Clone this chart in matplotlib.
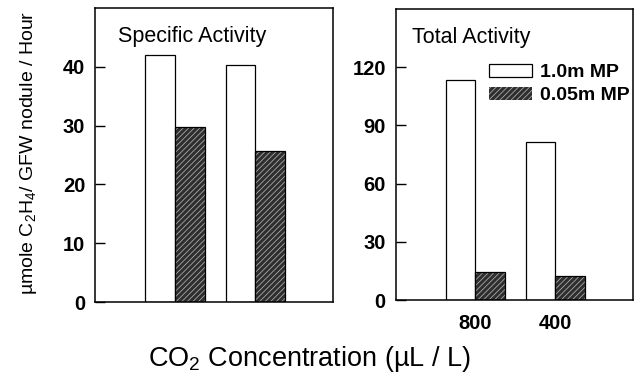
import numpy as np
import matplotlib
matplotlib.use('Agg')
import matplotlib.pyplot as plt
from matplotlib.patches import Patch

plt.rcParams['font.family'] = ['Liberation Sans', 'DejaVu Sans']
plt.rcParams['mathtext.fontset'] = 'custom'
plt.rcParams['mathtext.rm'] = 'Liberation Sans'
plt.rcParams['mathtext.it'] = 'Liberation Sans:italic'
plt.rcParams['hatch.linewidth'] = 0.6

# data
co2_levels = ['800', '400']
series_names = ['1.0m MP', '0.05m MP']
specific_high = [42.0, 40.3]
specific_low = [29.7, 25.7]
total_high = [113.3, 81.7]
total_low = [14.5, 12.3]
specific_ticks = [0, 10, 20, 30, 40]
total_ticks = [0, 30, 60, 90, 120]

fill_dark = '#2e2e2e'
hatch_col = '#a8a8a8'
w = 0.37

fig = plt.figure(figsize=(6.4, 3.78), dpi=100)
ax1 = fig.add_axes([0.1484, 0.201, 0.372, 0.778])
ax2 = fig.add_axes([0.618, 0.206, 0.371, 0.770])

x = np.arange(len(co2_levels))

def draw(ax, high, low, ymax, ticks, title, tx):
    ax.bar(x - w / 2, high, w, color='white', edgecolor='black', linewidth=0.9)
    ax.bar(x + w / 2, low, w, color=fill_dark, edgecolor=hatch_col,
           hatch='//////', linewidth=0)
    ax.bar(x + w / 2, low, w, fill=False, edgecolor='black', linewidth=0.9)
    ax.set_xlim(-1.0, 1.97)
    ax.set_ylim(0, ymax)
    ax.set_yticks(ticks)
    ax.tick_params(axis='y', direction='in', length=7, width=1.0, pad=7,
                   labelsize=14.5)
    for lab in ax.get_yticklabels():
        lab.set_fontweight('bold')
    for s in ax.spines.values():
        s.set_linewidth(1.1)
    ax.text(tx, 0.94, title, transform=ax.transAxes, fontsize=15.5,
            ha='left', va='top')

draw(ax1, specific_high, specific_low, 50, specific_ticks, 'Specific Activity', 0.095)
draw(ax2, total_high, total_low, 150, total_ticks, 'Total Activity', 0.07)

ax1.set_xticks([])
ax2.set_xticks(x)
ax2.set_xticklabels(co2_levels, fontsize=14.5, fontweight='bold')
ax2.tick_params(axis='x', length=0, pad=10)

handles = [Patch(facecolor='white', edgecolor='black', linewidth=0.9),
           Patch(facecolor=fill_dark, edgecolor=hatch_col, hatch='//////', linewidth=0)]
ax2.legend(handles, series_names, loc='upper left', bbox_to_anchor=(0.395, 0.81),
           frameon=False, borderpad=0, borderaxespad=0,
           prop={'size': 14, 'weight': 'bold'},
           handlelength=2.2, handleheight=0.6, handletextpad=0.4,
           labelspacing=0.3)

fig.text(0.045, 0.595, 'µmole C$_2$H$_4$/ GFW nodule / Hour', rotation=90,
         ha='center', va='center', fontsize=14)
fig.text(0.483, 0.05, 'CO$_2$ Concentration (µL / L)', ha='center',
         va='center', fontsize=19.5)

fig.savefig('out.png', dpi=100)
